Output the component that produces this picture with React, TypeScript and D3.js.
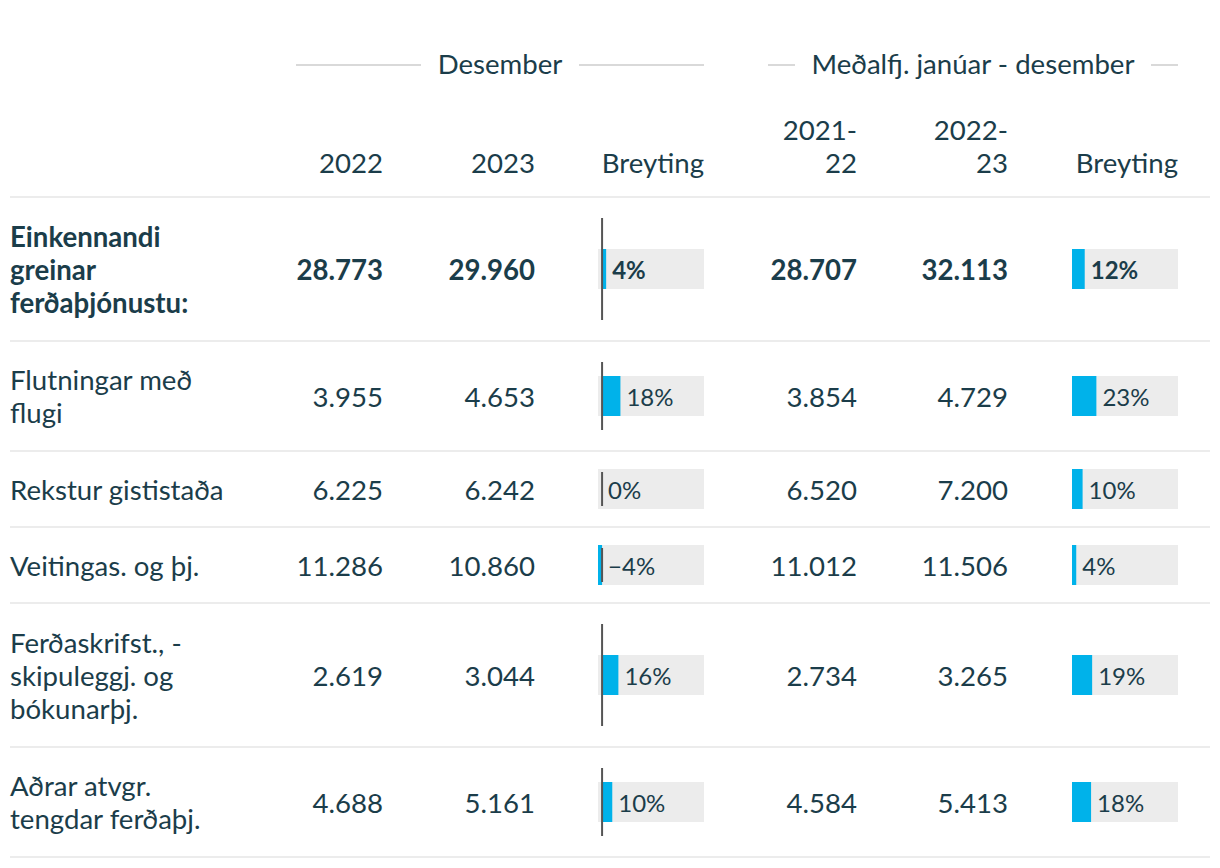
import React from "react";
import * as d3 from "d3";

const categoryLines: string[][] = [
  ["Einkennandi", "greinar", "ferðaþjónustu:"],
  ["Flutningar með", "flugi"],
  ["Rekstur gististaða"],
  ["Veitingas. og þj."],
  ["Ferðaskrifst., -", "skipuleggj. og", "bókunarþj."],
  ["Aðrar atvgr.", "tengdar ferðaþj."],
];
const dec2022 = [28773, 3955, 6225, 11286, 2619, 4688];
const dec2023 = [29960, 4653, 6242, 10860, 3044, 5161];
const decChange = [4, 18, 0, -4, 16, 10];
const avg2122 = [28707, 3854, 6520, 11012, 2734, 4584];
const avg2223 = [32113, 4729, 7200, 11506, 3265, 5413];
const avgChange = [12, 23, 10, 4, 19, 18];

const groupTitles = ["Desember", "Meðalfj. janúar - desember"];
const colHeaders: string[][] = [["2022"], ["2023"], ["Breyting"], ["2021-", "22"], ["2022-", "23"], ["Breyting"]];

const TEXT = "#1b3d4a";
const FONT = "Lato, 'Open Sans', sans-serif";
const GRID = "#ececec";
const BAR = "#00b2ea";

const locale = d3.formatLocale({ decimal: ",", thousands: ".", grouping: [3], currency: ["", ""], minus: "\u2212" });
const fmtNum = locale.format(",d");
const fmtPct = (v: number) => locale.format("d")(v) + "%";

export default function App() {
  const W = 1220;
  const H = 868;
  const headerBottom = 197;
  const lineH = 33;
  const pad = 21;
  const FS = 27.6;
  const rowHeights = categoryLines.map((l) => pad * 2 + 34 * l.length);
  const rowTops: number[] = [];
  let acc = headerBottom;
  rowHeights.forEach((h) => {
    rowTops.push(acc);
    acc += h;
  });

  const numRights = [383, 535, 857, 1008];
  const barCols = [
    { x0: 598, x1: 704, values: decChange, axis: true },
    { x0: 1072, x1: 1178, values: avgChange, axis: false },
  ];
  const scales = barCols.map((c) =>
    d3.scaleLinear().domain([Math.min(0, d3.min(c.values) as number), 100]).range([c.x0, c.x1])
  );
  const headerRights = [383, 535, 704, 857, 1008, 1178];
  const groups = [
    { x0: 296, x1: 704 },
    { x0: 768, x1: 1178 },
  ];
  const groupTextW = [126, 324];

  const numCols = [dec2022, dec2023, avg2122, avg2223];

  return (
    <svg width={W} height={H} style={{ position: "absolute", left: 0, top: 0, background: "#fff" }} fontFamily={FONT}>
      {/* group headers */}
      {groups.map((g, i) => {
        const cx = (g.x0 + g.x1) / 2;
        const hw = groupTextW[i] / 2 + 16;
        return (
          <g key={"g" + i}>
            <line x1={g.x0} x2={cx - hw} y1={65} y2={65} stroke="#cccccc" strokeWidth={1.5} />
            <line x1={cx + hw} x2={g.x1} y1={65} y2={65} stroke="#cccccc" strokeWidth={1.5} />
            <text x={cx} y={64.5} dy="0.36em" textAnchor="middle" fontSize={FS} fill={TEXT}>
              {groupTitles[i]}
            </text>
          </g>
        );
      })}
      {/* column headers */}
      {colHeaders.map((lines, i) =>
        lines.map((t, j) => (
          <text
            key={"h" + i + j}
            x={headerRights[i]}
            y={163.5 - (lines.length - 1 - j) * lineH}
            dy="0.36em"
            textAnchor="end"
            fontSize={FS}
            fill={TEXT}
          >
            {t}
          </text>
        ))
      )}
      <line x1={10} x2={1210} y1={headerBottom} y2={headerBottom} stroke={GRID} strokeWidth={2} />
      {/* rows */}
      {categoryLines.map((lines, r) => {
        const top = rowTops[r];
        const h = rowHeights[r];
        const cy = top + h / 2;
        const bold = r === 0;
        return (
          <g key={"r" + r}>
            {lines.map((t, j) => (
              <text
                key={j}
                x={10}
                y={cy + 1 + (j - (lines.length - 1) / 2) * lineH}
                dy="0.36em"
                fontSize={FS}
                fontWeight={bold ? 700 : 400}
                fill={TEXT}
              >
                {t}
              </text>
            ))}
            {numCols.map((col, c) => (
              <text
                key={"n" + c}
                x={numRights[c]}
                y={cy + 1}
                dy="0.36em"
                textAnchor="end"
                fontSize={FS}
                fontWeight={bold ? 700 : 400}
                fill={TEXT}
              >
                {fmtNum(col[r])}
              </text>
            ))}
            {barCols.map((bc, b) => {
              const s = scales[b];
              const v = bc.values[r];
              const z = s(0);
              const e = s(v);
              const bx = Math.min(z, e);
              const bw = Math.max(Math.abs(e - z), 0);
              return (
                <g key={"b" + b}>
                  <rect x={bc.x0} y={cy - 20} width={bc.x1 - bc.x0} height={40} fill={GRID} />
                  <rect x={bx} y={cy - 20} width={bw} height={40} fill={BAR} />
                  {bc.axis && (
                    <line x1={z} x2={z} y1={top + pad} y2={top + h - pad} stroke="#555" strokeWidth={2} />
                  )}
                  <text
                    x={Math.max(z, e) + 6}
                    y={cy + 1}
                    dy="0.36em"
                    fontSize={24}
                    fontWeight={bold ? 700 : 400}
                    fill={TEXT}
                  >
                    {fmtPct(v)}
                  </text>
                </g>
              );
            })}
            <line x1={10} x2={1210} y1={top + h} y2={top + h} stroke={GRID} strokeWidth={2} />
          </g>
        );
      })}
    </svg>
  );
}
